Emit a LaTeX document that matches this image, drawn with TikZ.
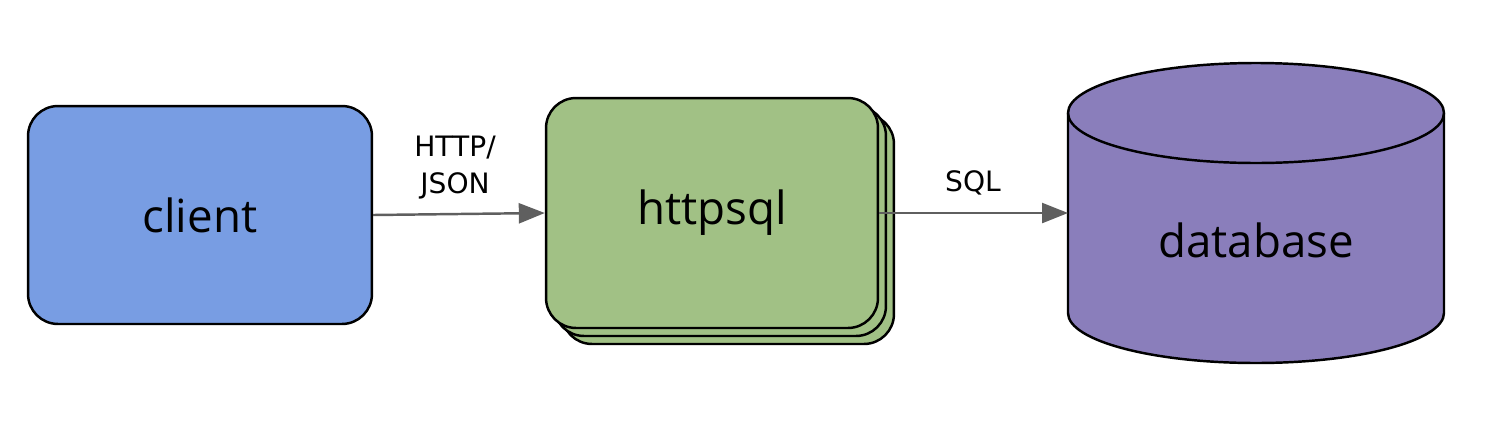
\documentclass[tikz,border=0pt]{standalone}
\usepackage{fontspec}
\setmainfont{Open Sans}
\newfontfamily\labelfont{DejaVu Sans}
\usetikzlibrary{arrows.meta}
\definecolor{clientblue}{HTML}{789DE3}
\definecolor{servergreen}{HTML}{A1C185}
\definecolor{dbpurple}{HTML}{8A7EBB}
\definecolor{linkgray}{HTML}{5F5F5F}
\begin{document}
\begin{tikzpicture}[%
            x=0.02cm, y=-0.02cm,
            box/.style={draw=black, line width=1.4pt, rounded corners=0.6cm,
                        font=\fontsize{26}{30}\selectfont},
            layer/.style={box, fill=servergreen, minimum width=6.64cm, minimum height=4.6cm},
            link/.style={draw=linkgray, line width=1.4pt, -{Triangle[length=0.52cm, width=0.4cm]}},
            linklabel/.style={font=\labelfont\fontsize{16}{21}\selectfont, align=center}
        ]
        \useasboundingbox (0,0) rectangle (1488,430);

        \node [box, fill=clientblue, minimum width=6.88cm, minimum height=4.36cm]
              (client) at (200,215) {client};

        % stacked server copies
        \node [layer] (layer2) at (728,229) {};
        \node [layer] (layer1) at (720,221) {};
        \node [layer] (httpsql) at (712,213) {httpsql};

        \begin{scope}[line width=1.4pt]
            \coordinate (topL) at (1068,113);
            \coordinate (botL) at (1068,313);
            \draw [fill=dbpurple]
                  (topL) -- (botL)
                  arc [start angle=180, end angle=360, x radius=188, y radius=-50]
                  -- (1444,113)
                  arc [start angle=0, end angle=180, x radius=188, y radius=-50] -- cycle;
            \draw (topL) arc [start angle=180, end angle=360, x radius=188, y radius=-50];
        \end{scope}
        \node [font=\fontsize{26}{30}\selectfont] (database) at (1256,240) {database};
        \coordinate (dbwest) at (1068,213);

        \draw [link] (client.east) -- (httpsql.west);
        \draw [link] (httpsql.east) -- (dbwest);

        \node [linklabel] (httpjson) at (455,168) {HTTP/\\JSON};
        \node [linklabel] (sql) at (973,183) {SQL};
    \end{tikzpicture}
\end{document}
